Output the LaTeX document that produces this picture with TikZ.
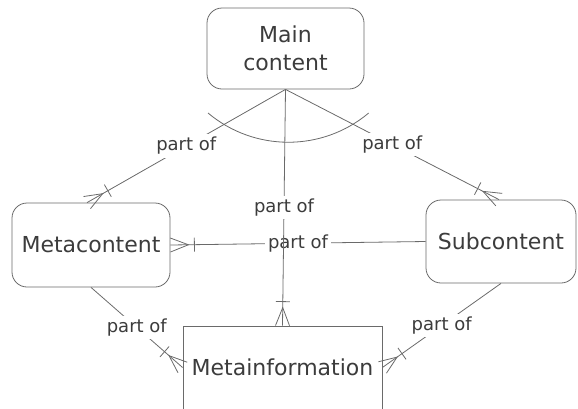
\documentclass[tikz,border=0pt]{standalone}
\usepackage{fontspec}
\setmainfont{DejaVu Sans}
\usetikzlibrary{arrows.meta}

\definecolor{linegray}{HTML}{6A6A6A}
\definecolor{txtgray}{HTML}{3C3C3C}

% crow's foot ("many") with a bar ("one") just behind it
\pgfdeclarearrow{
  name = CrowBar,
  setup code = {
    \pgfarrowssettipend{0pt}
    \pgfarrowssetlineend{0pt}
    \pgfarrowssetvisualbackend{-24pt}
    \pgfarrowssetbackend{-24pt}
    \pgfarrowshullpoint{0pt}{7pt}
    \pgfarrowshullpoint{0pt}{-7pt}
    \pgfarrowshullpoint{-24pt}{7pt}
    \pgfarrowshullpoint{-24pt}{-7pt}
  },
  drawing code = {
    \pgfpathmoveto{\pgfqpoint{0pt}{7pt}}
    \pgfpathlineto{\pgfqpoint{-18pt}{0pt}}
    \pgfpathlineto{\pgfqpoint{0pt}{-7pt}}
    \pgfpathmoveto{\pgfqpoint{-24pt}{7pt}}
    \pgfpathlineto{\pgfqpoint{-24pt}{-7pt}}
    \pgfusepathqstroke
  }
}

\tikzset{
  entity/.style={draw=linegray, line width=0.8pt, rounded corners=15pt,
    align=center, text=txtgray, inner sep=0pt,
    font=\fontsize{22}{28}\selectfont},
  infobox/.style={entity, rounded corners=0pt},
  lbl/.style={fill=white, text=txtgray, inner sep=3pt,
    font=\fontsize{18}{22}\selectfont},
  conn/.style={draw=linegray, line width=0.8pt, -CrowBar},
}

\begin{document}
\begin{tikzpicture}[x=1pt, y=-1pt]
  \useasboundingbox (0,0) rectangle (578,408);

  % entities
  \node[entity, minimum width=157pt, minimum height=81pt] (main) at (285.5,48.5) {Main\\content};
  \node[entity, minimum width=158pt, minimum height=84pt] (meta) at (91,245) {Metacontent};
  \node[entity, minimum width=150pt, minimum height=83pt] (sub) at (501,241.5) {Subcontent};
  \node[infobox, minimum width=199pt, minimum height=83pt] (info) at (282.5,367.5) {Metainformation};

  % relationships
  \draw[conn] (sub.west) -- node[lbl] {part of} (meta.east);
  \draw[conn] (main.south) -- node[lbl] {part of} ([xshift=-4pt]meta.north);
  \draw[conn] (main.south) -- node[lbl] {part of} ([xshift=-2pt]sub.north);
  \draw[conn] (main.south) -- node[lbl] {part of} (info.north);
  \draw[conn] (meta.south) -- node[lbl] {part of} (info.west);
  \draw[conn] (sub.south) -- node[lbl] {part of} (info.east);

  % arc grouping the three links out of the main content
  \draw[linegray, line width=0.8pt] (208,113) arc[start angle=230, end angle=310, radius=125pt];
\end{tikzpicture}
\end{document}
